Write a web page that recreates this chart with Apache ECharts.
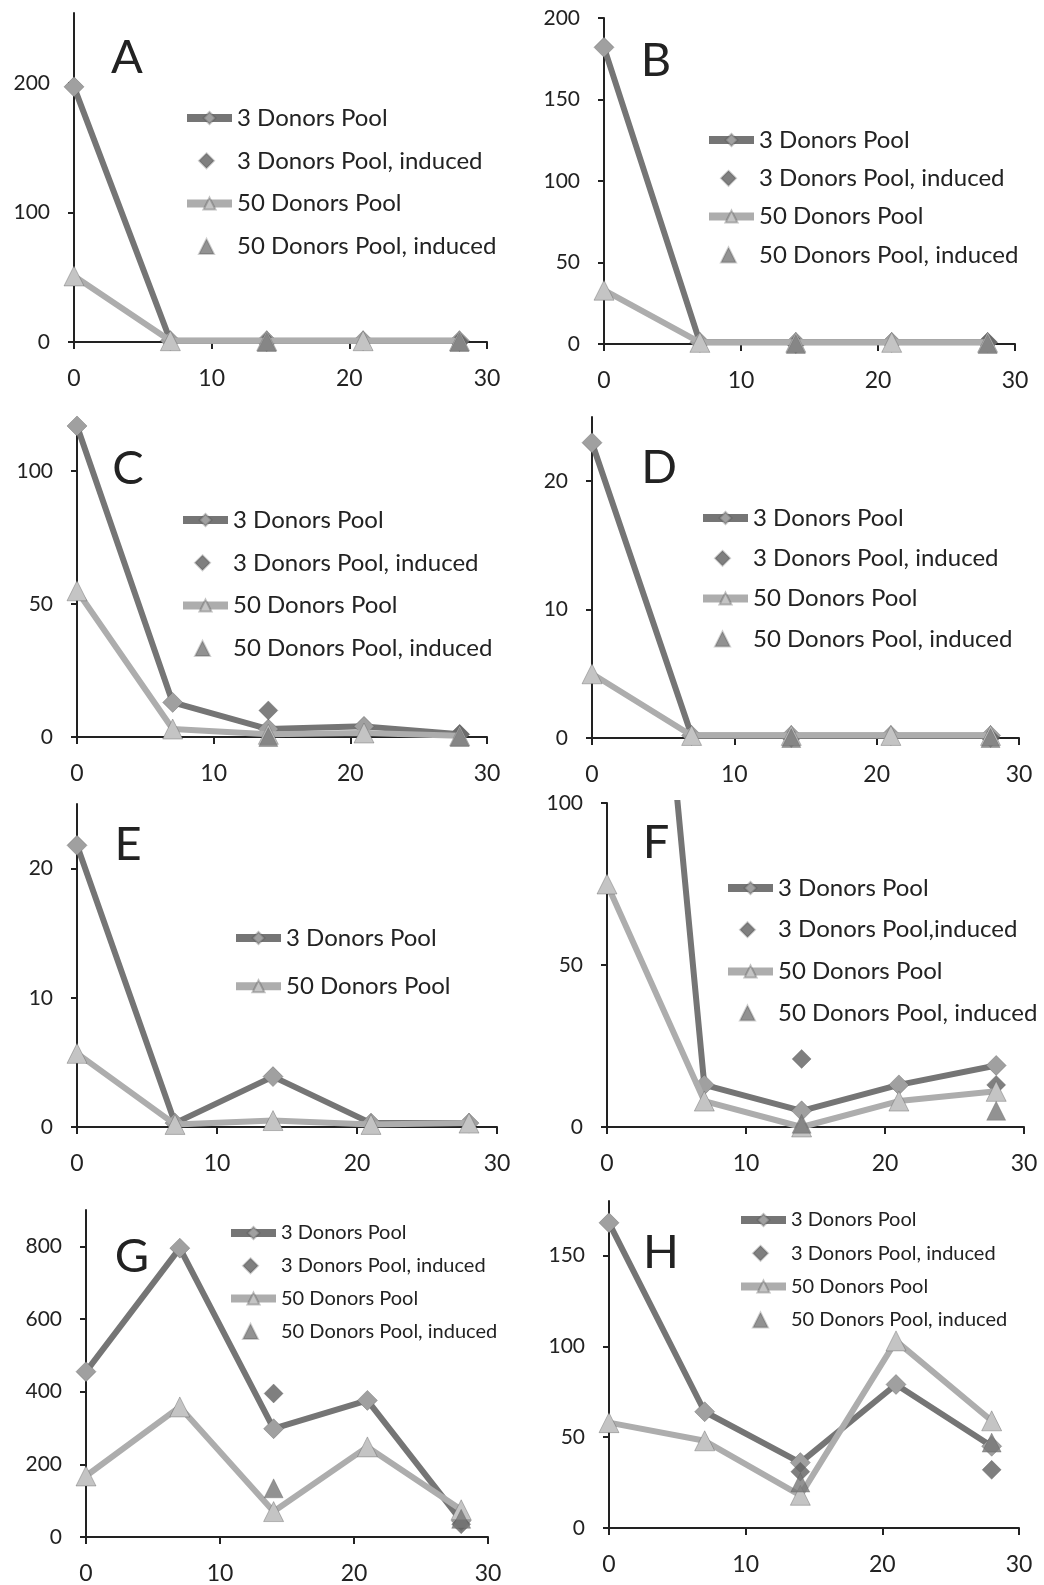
<!DOCTYPE html>
<html>
<head>
<meta charset="utf-8">
<script src="https://cdn.jsdelivr.net/npm/echarts@6/dist/echarts.min.js"></script>
<style>
html,body{margin:0;padding:0;background:#fff;}
#c{width:1044px;height:1585px;}
</style>
</head>
<body>
<div id="c"></div>
<script>
// ---------- DATA ----------
const days = [0, 7, 14, 21, 28];
const inducedDays = [14, 28];
const xTicks = [0, 10, 20, 30];

const panelLetters = ['A', 'B', 'C', 'D', 'E', 'F', 'G', 'H'];
const seriesNames = ['3 Donors Pool', '3 Donors Pool, induced', '50 Donors Pool', '50 Donors Pool, induced'];
const seriesNamesF = ['3 Donors Pool', '3 Donors Pool,induced', '50 Donors Pool', '50 Donors Pool, induced'];

// A
const aPool3 = [197, 1, 1, 1, 1];
const aPool3Induced = [0, 0];
const aPool50 = [51, 1, 1, 1, 1];
const aPool50Induced = [0, 0];
const aYTicks = [0, 100, 200];
// B
const bPool3 = [182, 1, 1, 1, 1];
const bPool3Induced = [0, 1];
const bPool50 = [33, 1, 1, 1, 1];
const bPool50Induced = [0, 0];
const bYTicks = [0, 50, 100, 150, 200];
// C
const cPool3 = [117, 13, 3, 4, 1];
const cPool3Induced = [10, 1];
const cPool50 = [55, 3, 1, 1.5, 0.5];
const cPool50Induced = [0, 0];
const cYTicks = [0, 50, 100];
// D
const dPool3 = [23, 0.2, 0.2, 0.2, 0.2];
const dPool3Induced = [0, 0];
const dPool50 = [5, 0.2, 0.2, 0.2, 0.2];
const dPool50Induced = [0, 0];
const dYTicks = [0, 10, 20];
// E
const ePool3 = [21.8, 0.3, 3.9, 0.3, 0.3];
const ePool50 = [5.7, 0.2, 0.5, 0.2, 0.3];
const eYTicks = [0, 10, 20];
// F
const fPool3 = [330, 13, 5, 13, 19];
const fPool3Induced = [21, 13];
const fPool50 = [75, 8, 0, 8, 11];
const fPool50Induced = [1, 5];
const fYTicks = [0, 50, 100];
// G
const gPool3 = [455, 795, 298, 376, 45];
const gPool3Induced = [395, 35];
const gPool50 = [168, 358, 70, 248, 75];
const gPool50Induced = [134, 50];
const gYTicks = [0, 200, 400, 600, 800];
// H
const hPool3 = [168, 64, 36, 79, 45];
const hPool3Induced = [31, 32];
const hPool50 = [58, 48, 18, 103, 59];
const hPool50Induced = [25, 47];
const hYTicks = [0, 50, 100, 150];

// ---------- LAYOUT (pixels) ----------
const panels = [
  {x0: 74,  x30: 487,  yTop: 13,   y0: 342,  yMax: 254, yTicks: aYTicks, d: [aPool3, aPool3Induced, aPool50, aPool50Induced], names: seriesNames,
   lg: {left: 183, first: 118, gap: 42.8, font: 24}, letter: [127, 58]},
  {x0: 604, x30: 1015, yTop: 18,   y0: 344,  yMax: 200, yTicks: bYTicks, d: [bPool3, bPool3Induced, bPool50, bPool50Induced], names: seriesNames,
   lg: {left: 705, first: 140, gap: 38.3, font: 24}, letter: [656, 61]},
  {x0: 77,  x30: 487,  yTop: 418,  y0: 737,  yMax: 120, yTicks: cYTicks, d: [cPool3, cPool3Induced, cPool50, cPool50Induced], names: seriesNames,
   lg: {left: 179, first: 520, gap: 42.8, font: 24}, letter: [128, 469]},
  {x0: 592, x30: 1019, yTop: 417,  y0: 738,  yMax: 25,  yTicks: dYTicks, d: [dPool3, dPool3Induced, dPool50, dPool50Induced], names: seriesNames,
   lg: {left: 699, first: 518, gap: 40.3, font: 24}, letter: [659, 468]},
  {x0: 77,  x30: 497,  yTop: 804,  y0: 1127, yMax: 25,  yTicks: eYTicks, d: [ePool3, null, ePool50, null], names: seriesNames,
   lg: {left: 232, first: 938, gap: 48.3, font: 24}, letter: [128, 845]},
  {x0: 607, x30: 1024, yTop: 803,  y0: 1127, yMax: 100, yTicks: fYTicks, d: [fPool3, fPool3Induced, fPool50, fPool50Induced], names: seriesNamesF,
   lg: {left: 724, first: 888, gap: 41.7, font: 24}, letter: [656, 843]},
  {x0: 86,  x30: 488,  yTop: 1210, y0: 1539, yMax: 900, yTicks: gYTicks, d: [gPool3, gPool3Induced, gPool50, gPool50Induced], names: seriesNames,
   lg: {left: 227, first: 1233, gap: 32.8, font: 20}, letter: [132, 1257]},
  {x0: 609, x30: 1019, yTop: 1201, y0: 1528, yMax: 180, yTicks: hYTicks, d: [hPool3, hPool3Induced, hPool50, hPool50Induced], names: seriesNames,
   lg: {left: 737, first: 1220, gap: 33.3, font: 20}, letter: [661, 1253]}
];

const FONT = 'Lato';
const AXIS_COLOR = '#222';
const styles = [
  {type: 'line', symbol: 'diamond', size: 20, line: '#757575', fill: '#a0a0a0'},
  {type: 'scatter', symbol: 'diamond', size: 19, fill: '#5f5f5f'},
  {type: 'line', symbol: 'triangle', size: 20, line: '#adadad', fill: '#c4c4c4'},
  {type: 'scatter', symbol: 'triangle', size: 19, fill: '#777777'}
];

const grid = [], xAxis = [], yAxis = [], series = [], legend = [], graphic = [];
panels.forEach((p, i) => {
  grid.push({left: p.x0, top: p.yTop, width: p.x30 - p.x0, height: p.y0 - p.yTop, containLabel: false});
  xAxis.push({
    type: 'value', gridIndex: i, min: 0, max: 30, interval: 10,
    axisLine: {onZero: false, lineStyle: {color: AXIS_COLOR, width: 2}},
    axisTick: {show: true, length: 7, lineStyle: {color: AXIS_COLOR, width: 2}},
    axisLabel: {margin: 25, fontFamily: FONT, fontSize: 23, color: AXIS_COLOR, customValues: xTicks},
    splitLine: {show: false}
  });
  yAxis.push({
    type: 'value', gridIndex: i, min: 0, max: p.yMax,
    interval: p.yTicks[1] - p.yTicks[0],
    axisLine: {show: true, onZero: false, lineStyle: {color: AXIS_COLOR, width: 2}},
    axisTick: {show: true, length: 6, lineStyle: {color: AXIS_COLOR, width: 2}, customValues: p.yTicks},
    axisLabel: {margin: 24, fontFamily: FONT, fontSize: 21, color: AXIS_COLOR, customValues: p.yTicks,
      formatter: v => (p.yTicks.indexOf(v) >= 0 ? String(v) : '')},
    splitLine: {show: false}
  });
  let row = 0;
  const lh = p.lg.font + 4;
  p.d.forEach((arr, k) => {
    if (!arr) return;
    const st = styles[k];
    const xs = st.type === 'line' ? days : inducedDays;
    const s = {
      name: p.names[k], type: st.type, xAxisIndex: i, yAxisIndex: i,
      data: xs.map((d, j) => [d, arr[j]]),
      symbol: st.symbol, symbolSize: st.size, symbolKeepAspect: true,
      itemStyle: {color: st.fill, borderColor: 'rgba(80,80,80,0.35)', borderWidth: 1},
      silent: true, animation: false, z: 2 + k
    };
    if (st.type === 'line') {
      s.lineStyle = {color: st.line, width: 6};
      s.showSymbol = true;
      s.clip = true;
    }
    series.push(s);
    // one legend per row so that line and marker-only icons can differ in width
    const isLine = st.type === 'line';
    legend.push({
      orient: 'vertical',
      left: isLine ? p.lg.left : p.lg.left + 15,
      top: p.lg.first + row * p.lg.gap - lh / 2,
      padding: 0, itemWidth: isLine ? 45 : 15, itemHeight: 15,
      selectedMode: false,
      data: [isLine ? p.names[k] : {name: p.names[k], icon: st.symbol}],
      textStyle: {fontFamily: FONT, fontSize: p.lg.font, color: '#222', lineHeight: lh,
        padding: isLine ? 0 : [0, 0, 0, 18]},
      lineStyle: {width: 8}
    });
    row++;
  });
  graphic.push({
    type: 'text', x: p.letter[0], y: p.letter[1], silent: true,
    style: {text: panelLetters[i], fontFamily: FONT, fontSize: 47, fill: '#222', textAlign: 'center', textVerticalAlign: 'middle'}
  });
});

const chart = echarts.init(document.getElementById('c'), null, {renderer: 'canvas'});
chart.setOption({
  animation: false,
  backgroundColor: '#fff',
  grid, xAxis, yAxis, series, legend, graphic
});
</script>
</body>
</html>
